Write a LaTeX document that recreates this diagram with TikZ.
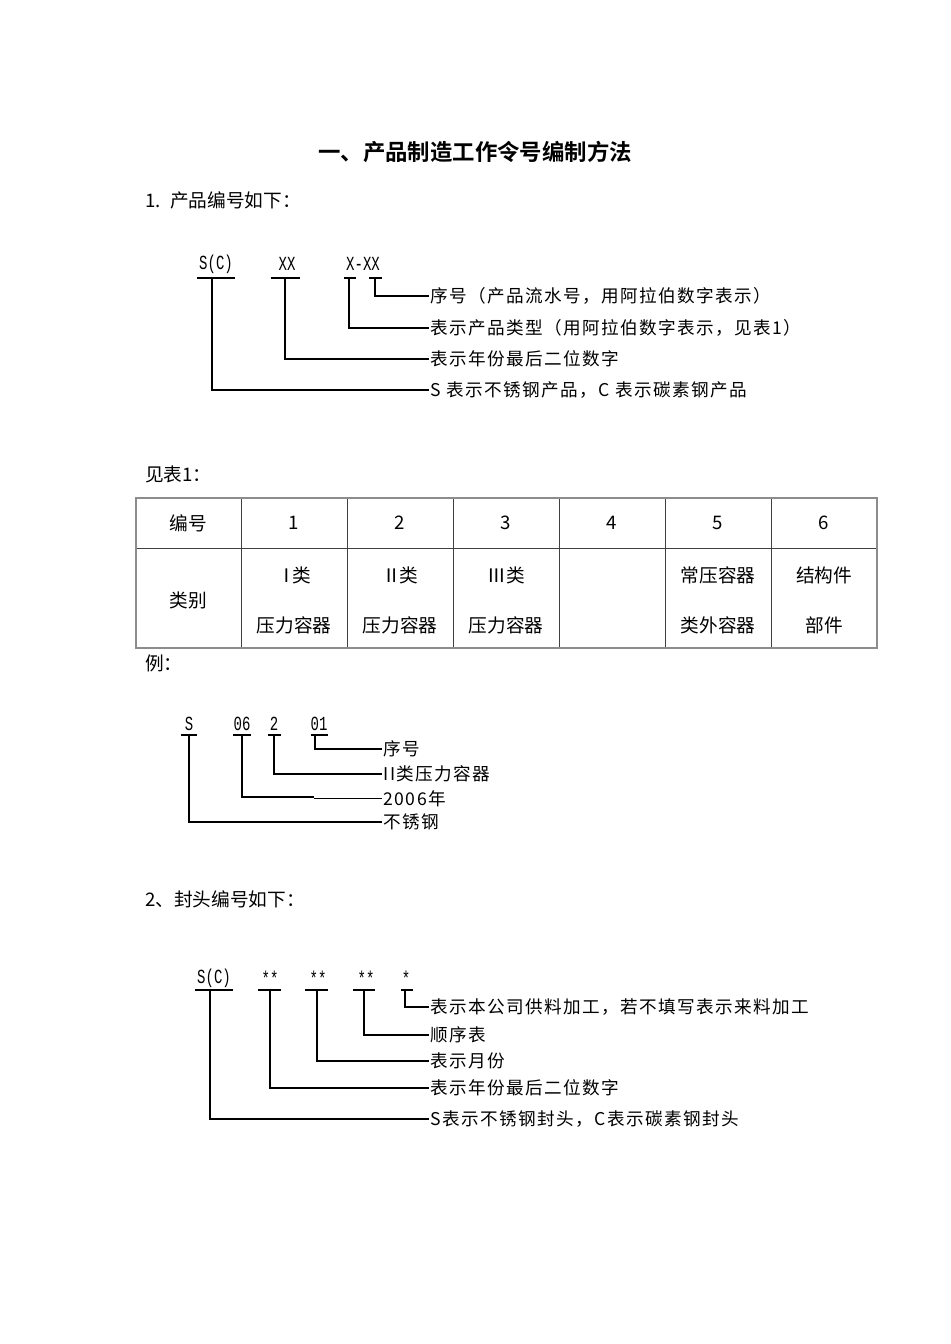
\documentclass[tikz,border=0pt]{standalone}
\usepackage{fontspec}
\setmainfont{Noto Sans CJK SC}[BoldFont={Noto Sans CJK SC Bold}]
\newfontfamily\labfont{Noto Sans CJK SC}[LetterSpace=8]
\newfontfamily\codefont{Liberation Mono}[FakeStretch=0.7]
\tikzset{
  lab/.style={anchor=west, inner xsep=1pt, inner ysep=0pt, font=\labfont\fontsize{13.2}{15}\selectfont},
  code/.style={inner sep=0pt, font=\codefont\fontsize{15}{16}\selectfont},
  cell/.style={inner sep=0pt, font=\fontsize{14}{16}\selectfont},
  head/.style={anchor=west, inner sep=0pt, font=\fontsize{14}{16}\selectfont},
  uline/.style={line width=0.8pt},
  frame/.style={draw=black!45, line width=1.2pt},
  rule/.style={draw=black!75, line width=0.7pt},
}
\begin{document}
\begin{tikzpicture}[x=0.75pt,y=-0.75pt]
  \fill[white] (0,0) rectangle (950,1344);
  \useasboundingbox (0,0) rectangle (950,1344);

  \node[inner sep=0pt, font=\bfseries\fontsize{16.8}{19}\selectfont] (title) at (475,152) {一、产品制造工作令号编制方法};
  \node[head] (h1) at (145,200) {1.\hspace{7pt}产品编号如下：};

  % product number
  \node[code] (sc) at (216,264) {S(C)};
  \node[code] (yy) at (287,264) {XX};
  \node[code] (tn) at (363,264) {X-XX};
  \draw[uline] (197,278) -- (235,278);
  \draw[uline] (271,278) -- (300,278);
  \draw[uline] (344,278) -- (356,278);
  \draw[uline] (369,278) -- (382,278);
  \coordinate (sc-d) at (212,278);
  \coordinate (yy-d) at (285,278);
  \coordinate (t-d) at (349,278);
  \coordinate (n-d) at (375,278);
  \node[lab] (l1) at (429,296) {序号（产品流水号，用阿拉伯数字表示）};
  \node[lab] (l2) at (429,328) {表示产品类型（用阿拉伯数字表示，见表1）};
  \node[lab] (l3) at (429,359) {表示年份最后二位数字};
  \node[lab] (l4) at (429,390) {S 表示不锈钢产品，C 表示碳素钢产品};
  \begin{scope}[uline]
    \draw (n-d) |- (l1.west);
    \draw (t-d) |- (l2.west);
    \draw (yy-d) |- (l3.west);
    \draw (sc-d) |- (l4.west);
  \end{scope}

  % table 1
  \node[head] (h2) at (145,474) {见表1：};
  \draw[rule] (136,548) -- (877,548);
  \foreach \x in {241,347,453,559,665,771}
    \draw[rule] (\x,498) -- (\x,648);
  \draw[frame] (136,498) rectangle (877,648);
  \node[cell] (c0) at (188.5,523) {编号};
  \node[cell] (c1) at (294,523) {1};
  \node[cell] (c2) at (400,523) {2};
  \node[cell] (c3) at (506,523) {3};
  \node[cell] (c4) at (612,523) {4};
  \node[cell] (c5) at (718,523) {5};
  \node[cell] (c6) at (824,523) {6};
  \node[cell] (k0) at (188.5,600) {类别};
  \node[cell] (k1a) at (294,575) {Ⅰ\kern-3pt类};
  \node[cell] (k1b) at (294,625) {压力容器};
  \node[cell] (k2a) at (400,575) {Ⅱ\kern-1.5pt类};
  \node[cell] (k2b) at (400,625) {压力容器};
  \node[cell] (k3a) at (506,575) {Ⅲ类};
  \node[cell] (k3b) at (506,625) {压力容器};
  \node[cell] (k5a) at (718,575) {常压容器};
  \node[cell] (k5b) at (718,625) {类外容器};
  \node[cell] (k6a) at (824,575) {结构件};
  \node[cell] (k6b) at (824,625) {部件};
  \node[head] (h3) at (145,663) {例：};

  % example
  \node[code] (es) at (189,724) {S};
  \node[code] (ey) at (242,724) {06};
  \node[code] (et) at (274,724) {2};
  \node[code] (en) at (319,724) {01};
  \draw[uline] (181,735) -- (197,735);
  \draw[uline] (233,735) -- (251,735);
  \draw[uline] (268,735) -- (281,735);
  \draw[uline] (311,735) -- (328,735);
  \coordinate (es-d) at (189,735);
  \coordinate (ey-d) at (242,735);
  \coordinate (et-d) at (274,735);
  \coordinate (en-d) at (315,735);
  \coordinate (ey-j) at (314,797);
  \node[lab] (e1) at (382,749) {序号};
  \node[lab] (e2) at (382,774) {II类压力容器};
  \node[lab] (e3) at (382,798.5) {2006年};
  \node[lab] (e4) at (382,822) {不锈钢};
  \begin{scope}[uline]
    \draw (en-d) |- (e1.west);
    \draw (et-d) |- (e2.west);
    \draw (ey-d) |- (ey-j);
    \draw (ey-j |- e3.west) -- (e3.west);
    \draw (es-d) |- (e4.west);
  \end{scope}

  % heads
  \node[head] (h4) at (145,899) {2、封头编号如下：};
  \node[code] (hs) at (214,978) {S(C)};
  \node[code] (hy) at (270,978) {**};
  \node[code] (hm) at (318,978) {**};
  \node[code] (hq) at (366,978) {**};
  \node[code] (hp) at (406,978) {*};
  \draw[uline] (195,990) -- (233,990);
  \draw[uline] (258,990) -- (281,990);
  \draw[uline] (305,990) -- (328,990);
  \draw[uline] (353,990) -- (375,990);
  \draw[uline] (401,990) -- (413,990);
  \coordinate (hs-d) at (210,990);
  \coordinate (hy-d) at (270,990);
  \coordinate (hm-d) at (317,990);
  \coordinate (hq-d) at (364,990);
  \coordinate (hp-d) at (405,990);
  \node[lab] (f1) at (429,1007) {表示本公司供料加工，若不填写表示来料加工};
  \node[lab] (f2) at (429,1035) {顺序表};
  \node[lab] (f3) at (429,1061) {表示月份};
  \node[lab] (f4) at (429,1088) {表示年份最后二位数字};
  \node[lab] (f5) at (429,1119) {S表示不锈钢封头，C表示碳素钢封头};
  \begin{scope}[uline]
    \draw (hp-d) |- (f1.west);
    \draw (hq-d) |- (f2.west);
    \draw (hm-d) |- (f3.west);
    \draw (hy-d) |- (f4.west);
    \draw (hs-d) |- (f5.west);
  \end{scope}
\end{tikzpicture}
\end{document}
